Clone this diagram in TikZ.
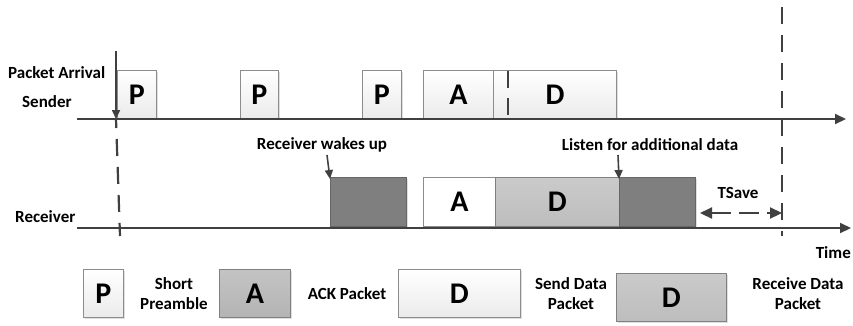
\documentclass[tikz,border=0pt]{standalone}
\usepackage{fontspec}
\setmainfont{Carlito}
\usetikzlibrary{arrows.meta,shadows}
\definecolor{ln}{HTML}{404040}
\definecolor{bd}{HTML}{8C8C8C}
\definecolor{dk}{HTML}{7F7F7F}
\definecolor{lg}{HTML}{BDBDBD}
\tikzset{
  axis/.style={draw=ln,line width=2pt,-{Triangle[length=11pt,width=10pt]}},
  darr/.style={draw=ln,line width=1.6pt,-{Triangle[length=9pt,width=8pt]}},
  vdash/.style={draw=ln,line width=2.2pt,dash pattern=on 17pt off 11pt},
  pkt/.style={draw=bd,line width=0.8pt,top color=white,bottom color=black!8,
     anchor=south west,inner sep=0pt,font=\bfseries\fontsize{30}{32}\selectfont,
     drop shadow={shadow xshift=1.2pt,shadow yshift=-1.2pt,opacity=0.25}},
  dkbox/.style={draw=black!60,line width=0.8pt,fill=dk,anchor=south west,inner sep=0pt,
     drop shadow={shadow xshift=1.2pt,shadow yshift=-1.2pt,opacity=0.25}},
  lgbox/.style={pkt,top color=lg!80,bottom color=lg,draw=black!50},
  lbl/.style={font=\bfseries\fontsize{17}{19}\selectfont,align=center,inner sep=0pt},
}
\begin{document}
\begin{tikzpicture}[x=1pt,y=-1pt]
\useasboundingbox (0,0) rectangle (853,325);
% sender boxes
\node[pkt,minimum width=39pt,minimum height=48pt] (p1) at (117,119) {P};
\node[pkt,minimum width=38pt,minimum height=48pt] (p2) at (240,119) {P};
\node[pkt,minimum width=39pt,minimum height=48pt] (p3) at (362,119) {P};
\node[pkt,minimum width=70pt,minimum height=48pt] (sa) at (423,119) {A};
\node[pkt,minimum width=123pt,minimum height=48pt] (sd) at (493,119) {};
\node[font=\bfseries\fontsize{30}{32}\selectfont,inner sep=0pt] (sdl) at (555,95) {D};
% receiver boxes
\node[dkbox,minimum width=76pt,minimum height=49pt] (rw) at (330,227) {};
\node[pkt,fill=white,top color=white,bottom color=white,minimum width=72pt,minimum height=49pt] (ra) at (423,227) {A};
\node[lgbox,minimum width=124pt,minimum height=49pt] (rd) at (495,227) {D};
\node[dkbox,minimum width=76pt,minimum height=49pt] (rl) at (619,227) {};
% axes
\coordinate (s0) at (77,119);
\coordinate (s1) at (846,119);
\coordinate (r0) at (77,228);
\coordinate (r1) at (851,228);
\draw[axis] (s0) -- (s1);
\draw[axis] (r0) -- (r1);
% packet arrival
\coordinate (pa0) at (116,51);
\coordinate (pa1) at (116,119);
\coordinate (pa2) at (120,236);
\draw[darr] (pa0) -- (pa1);
\draw[vdash,dash phase=-20pt] (pa1) -- (pa2);
% sender A/D divider
\coordinate (dv0) at (508,71);
\coordinate (dv1) at (508,119);
\draw[vdash,dash pattern=on 17pt off 10pt] (dv0) -- (dv1);
% right dashed line
\coordinate (rt0) at (782,7);
\coordinate (rt1) at (782,236);
\draw[vdash] (rt0) -- (rt1);
% labels
\node[lbl,anchor=west] (lpa) at (8,73) {Packet Arrival};
\node[lbl,anchor=west] (lsn) at (22,102) {Sender};
\node[lbl,anchor=west] (lrc) at (15,217) {Receiver};
\node[lbl,anchor=east] (ltm) at (851,253) {Time};
\node[lbl] (lwk) at (322,145) {Receiver wakes up};
\node[lbl] (lls) at (650,145) {Listen for additional data};
\node[lbl] (lts) at (738,193) {TSave};
\coordinate (wk0) at (327,155);
\coordinate (wk1) at (330,179);
\draw[darr] (wk0) -- (wk1);
\coordinate (ls0) at (618,155);
\coordinate (ls1) at (619,179);
\draw[darr] (ls0) -- (ls1);
% TSave arrows
\coordinate (ts0) at (700,213);
\coordinate (ts1) at (782,213);
\draw[draw=ln,line width=2.2pt,dash pattern=on 20pt off 8pt,
  {Triangle[length=12pt,width=11pt]}-{Triangle[length=12pt,width=11pt]}] (ts0) -- (ts1);
% legend
\node[pkt,minimum width=40pt,minimum height=48pt] (gp) at (83,318) {P};
\node[lbl] (gpt) at (174,294) {Short\\[1pt]Preamble};
\node[lgbox,minimum width=71pt,minimum height=48pt,top color=lg!90,bottom color=lg!95!black] (ga) at (219,318) {A};
\node[lbl] (gat) at (347,294) {ACK Packet};
\node[pkt,minimum width=122pt,minimum height=48pt] (gd) at (398,318) {D};
\node[lbl] (gdt) at (571,294) {Send Data\\[1pt]Packet};
\node[lgbox,minimum width=110pt,minimum height=48pt] (gr) at (616,322) {D};
\node[lbl] (grt) at (798,294) {Receive Data\\[1pt]Packet};
\end{tikzpicture}
\end{document}
